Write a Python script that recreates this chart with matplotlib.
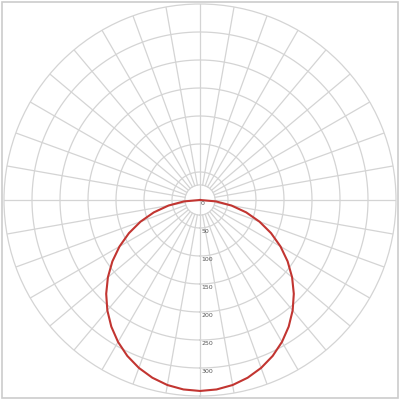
import numpy as np
import matplotlib
matplotlib.use("Agg")
import matplotlib.pyplot as plt
from matplotlib.patches import Rectangle

angle_deg = [0, 5, 10, 15, 20, 25, 30, 35, 40, 45, 50, 55, 60, 65, 70, 75, 80, 85, 90]
radius = [341, 339.6, 335.5, 328.6, 319.1, 307.2, 292.7, 276.1, 257.4, 236.9,
          214.7, 191.0, 166.0, 140.0, 113.0, 85.4, 57.2, 28.7, 0]
ring_values = [50, 100, 150, 200, 250, 300, 350]
ring_labels = ["0", "50", "100", "150", "200", "250", "300"]
r_max = 350
r_inner = 27

grid_col = "#d4d4d4"
line_col = "#c23531"

fig = plt.figure(figsize=(4, 4), dpi=100)
ax = fig.add_axes([0.01, 0.01, 0.98, 0.98], projection="polar")
ax.set_theta_zero_location("S")
ax.set_theta_direction(1)
ax.set_ylim(0, r_max)
ax.set_xticks([])
ax.set_yticks([])
ax.grid(False)
ax.spines["polar"].set_color(grid_col)
ax.spines["polar"].set_linewidth(0.9)

full = np.linspace(0, 2 * np.pi, 361)
for rv in [r_inner] + ring_values[:-1]:
    ax.plot(full, np.full_like(full, rv), color=grid_col, lw=0.9, zorder=1)

for a in range(0, 360, 10):
    t = np.radians(a)
    start = 0 if a % 90 == 0 else r_inner
    ax.plot([t, t], [start, r_max], color=grid_col, lw=0.9, zorder=1)

# full curve, mirrored about the downward axis
th = np.radians([-a for a in angle_deg[::-1]] + angle_deg[1:])
rr = radius[::-1] + radius[1:]
ax.plot(th, rr, color=line_col, lw=1.5, zorder=3)

for i, lab in enumerate(ring_labels):
    ax.annotate(lab, xy=(0, i * 50), xytext=(0.8, -2.2), textcoords="offset points",
                ha="left", va="center", fontsize=4.5, color="#555555", zorder=4)

fig.add_artist(Rectangle((0.005, 0.005), 0.99, 0.99, transform=fig.transFigure,
                         fill=False, edgecolor="#cccccc", lw=1.2))

fig.savefig("out.png", dpi=100)
